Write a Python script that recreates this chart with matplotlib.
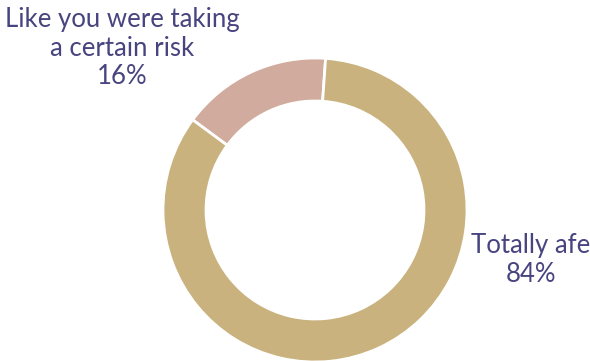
import matplotlib.pyplot as plt

labels = ["Like you were taking\na certain risk", "Totally afe"]
shares = [16, 84]
colors = ["#D1AB9E", "#C9B27D"]
text_color = "#47447F"

fig = plt.figure(figsize=(5.9, 3.61), dpi=100)
ax = fig.add_axes([0, 0, 1, 1])
ax.set_xlim(0, 590)
ax.set_ylim(0, 361)
ax.set_aspect("equal")
ax.axis("off")

# donut ring, 16% slice first going counter-clockwise from near the top
ax.pie(shares, colors=colors, startangle=86, counterclock=True,
       center=(315, 151), radius=152,
       wedgeprops=dict(width=43, edgecolor="white", linewidth=2))
ax.set_xlim(0, 590)
ax.set_ylim(0, 361)

font = dict(family=["Lato", "DejaVu Sans"], fontsize=18.5, color=text_color,
            ha="center", va="center", linespacing=1.15)
ax.text(122, 313, f"{labels[0]}\n{shares[0]}%", **font)
ax.text(531, 101, f"{labels[1]}\n{shares[1]}%", **font)

fig.savefig("out.png", dpi=100)
